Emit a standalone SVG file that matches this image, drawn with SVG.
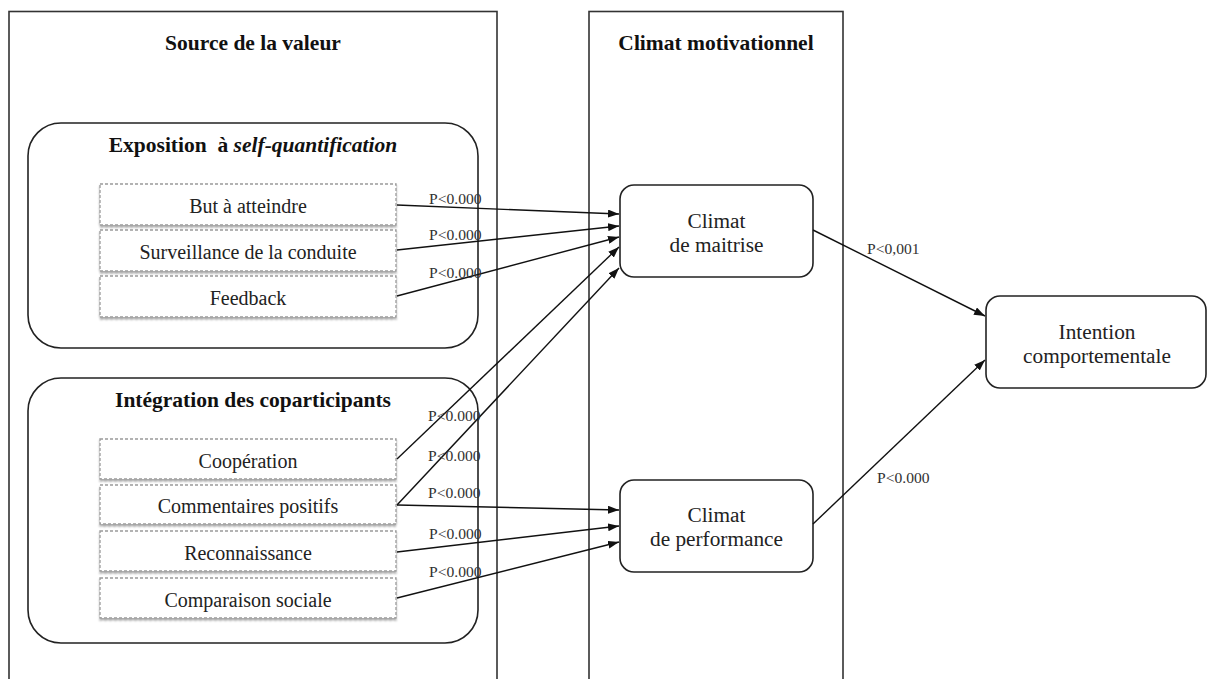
<svg xmlns="http://www.w3.org/2000/svg" width="1207" height="679" viewBox="0 0 1207 679">
<defs>
  <marker id="arr" markerUnits="userSpaceOnUse" markerWidth="11" markerHeight="8" refX="11" refY="4" orient="auto">
    <path d="M0,0 L11,4 L0,8 z" fill="#111"/>
  </marker>
  <filter id="sh" x="-5%" y="-20%" width="110%" height="150%">
    <feDropShadow dx="0" dy="2" stdDeviation="1.2" flood-color="#000" flood-opacity="0.35"/>
  </filter>
  <style>
    .panel{fill:none;stroke:#333;stroke-width:1.6}
    .group{fill:#fff;stroke:#222;stroke-width:1.6}
    .item{fill:#fff;stroke:#9a9a9a;stroke-width:1.3;stroke-dasharray:3 2;filter:url(#sh)}
    .node{fill:#fff;stroke:#222;stroke-width:1.6}
    .hdr{font-family:"Liberation Serif","Times New Roman",serif;font-weight:bold;font-size:21.5px;fill:#111;text-anchor:middle}
    .it{font-family:"Liberation Serif","Times New Roman",serif;font-size:20px;fill:#222;text-anchor:middle}
    .nt{font-family:"Liberation Serif","Times New Roman",serif;font-size:21.3px;fill:#222;text-anchor:middle}
    .lb{font-family:"Liberation Serif","Times New Roman",serif;font-size:15.6px;fill:#333}
    .cn{stroke:#111;stroke-width:1.4;fill:none;marker-end:url(#arr)}
  </style>
</defs>
<rect width="1207" height="679" fill="#fff"/>

<g id="panel-source">
  <rect class="panel" x="9" y="11.5" width="488" height="700"/>
  <text class="hdr" x="253" y="50">Source de la valeur</text>
</g>
<g id="panel-climat">
  <rect class="panel" x="589" y="11.5" width="254" height="700"/>
  <text class="hdr" x="716" y="50">Climat motivationnel</text>
</g>

<g id="group-exposition">
  <rect class="group" x="28" y="123" width="450" height="225" rx="33" ry="33"/>
  <text class="hdr" x="253" y="152" xml:space="preserve">Exposition  à <tspan font-style="italic">self-quantification</tspan></text>
</g>
<g id="group-integration">
  <rect class="group" x="28" y="378" width="450" height="265" rx="33" ry="33"/>
  <text class="hdr" x="253" y="407">Intégration des coparticipants</text>
</g>

<g id="item-but">
  <rect class="item" x="100" y="184" width="296" height="41"/>
  <text class="it" x="248" y="213">But à atteindre</text>
</g>
<g id="item-surveillance">
  <rect class="item" x="100" y="230" width="296" height="41"/>
  <text class="it" x="248" y="259">Surveillance de la conduite</text>
</g>
<g id="item-feedback">
  <rect class="item" x="100" y="276" width="296" height="41"/>
  <text class="it" x="248" y="305">Feedback</text>
</g>
<g id="item-cooperation">
  <rect class="item" x="100" y="439" width="296" height="40"/>
  <text class="it" x="248" y="467.5">Coopération</text>
</g>
<g id="item-commentaires">
  <rect class="item" x="100" y="485" width="296" height="39"/>
  <text class="it" x="248" y="513">Commentaires positifs</text>
</g>
<g id="item-reconnaissance">
  <rect class="item" x="100" y="531" width="296" height="40"/>
  <text class="it" x="248" y="559.5">Reconnaissance</text>
</g>
<g id="item-comparaison">
  <rect class="item" x="100" y="578" width="296" height="40"/>
  <text class="it" x="248" y="606.5">Comparaison sociale</text>
</g>

<g id="node-maitrise">
  <rect class="node" x="620" y="185" width="193" height="92" rx="14" ry="14"/>
  <text class="nt" x="716.5" y="228">Climat</text>
  <text class="nt" x="716.5" y="252">de maitrise</text>
</g>
<g id="node-performance">
  <rect class="node" x="620" y="480" width="193" height="92" rx="14" ry="14"/>
  <text class="nt" x="716.5" y="522">Climat</text>
  <text class="nt" x="716.5" y="546">de performance</text>
</g>
<g id="node-intention">
  <rect class="node" x="986" y="296" width="220" height="92" rx="14" ry="14"/>
  <text class="nt" x="1097" y="339">Intention</text>
  <text class="nt" x="1097" y="363">comportementale</text>
</g>

<g id="connectors">
  <line class="cn" x1="397" y1="205" x2="619" y2="214"/>
  <line class="cn" x1="397" y1="250" x2="619" y2="226"/>
  <line class="cn" x1="397" y1="296" x2="619" y2="237"/>
  <line class="cn" x1="397" y1="459" x2="619" y2="247"/>
  <line class="cn" x1="397" y1="505" x2="619" y2="268"/>
  <line class="cn" x1="397" y1="505" x2="619" y2="510"/>
  <line class="cn" x1="397" y1="552" x2="619" y2="526"/>
  <line class="cn" x1="397" y1="598" x2="619" y2="542"/>
  <line class="cn" x1="813" y1="230" x2="985" y2="316"/>
  <line class="cn" x1="813" y1="524" x2="985" y2="360"/>
  <text class="lb" x="429" y="204">P&lt;0.000</text>
  <text class="lb" x="429" y="240">P&lt;0.000</text>
  <text class="lb" x="429" y="278">P&lt;0.000</text>
  <text class="lb" x="428" y="421">P&lt;0.000</text>
  <text class="lb" x="428" y="461">P&lt;0.000</text>
  <text class="lb" x="428" y="498">P&lt;0.000</text>
  <text class="lb" x="429" y="539">P&lt;0.000</text>
  <text class="lb" x="429" y="577">P&lt;0.000</text>
  <text class="lb" x="867" y="254">P&lt;0,001</text>
  <text class="lb" x="877" y="483">P&lt;0.000</text>
</g>
</svg>
